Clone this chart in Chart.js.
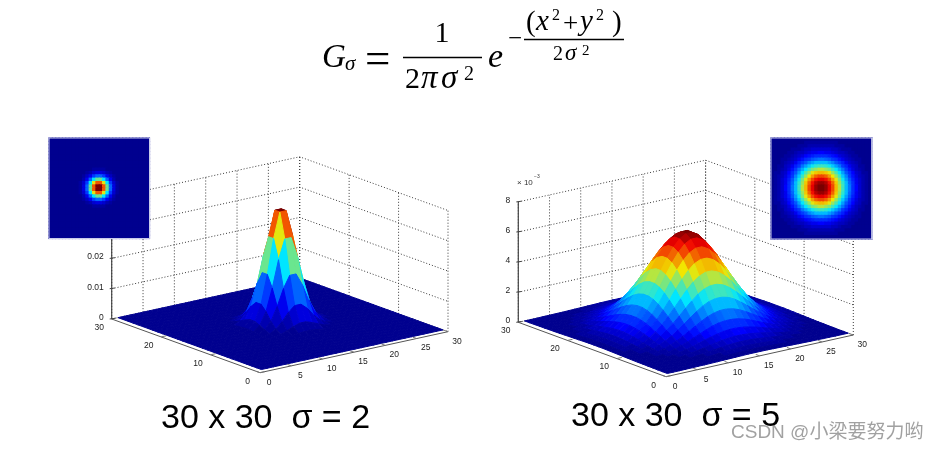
<!DOCTYPE html>
<html>
<head>
<meta charset="utf-8">
<title>Gaussian kernels</title>
<script src="https://cdn.jsdelivr.net/npm/chart.js@4"></script>
<style>
	html, body { margin: 0; background: #fff; }
	canvas { display: block; filter: blur(0.4px); }
</style>
</head>
<body>
<canvas id="kernels" width="937" height="450"></canvas>
<script>
// axis ticks, shared by both plots
const xTicks = [0, 5, 10, 15, 20, 25, 30];
const yTicks = [0, 10, 20, 30];

// sigma = 2, heights in units of 1e-4. One quadrant read from the peak outwards, the surface is round
const sigma2Quadrant = [
	[374, 291, 177, 83, 31, 9, 2, 0, 0, 0, 0, 0, 0, 0, 0],
	[291, 227, 138, 65, 24, 7, 2, 0, 0, 0, 0, 0, 0, 0, 0],
	[177, 138, 83, 39, 15, 4, 1, 0, 0, 0, 0, 0, 0, 0, 0],
	[83, 65, 39, 19, 7, 2, 0, 0, 0, 0, 0, 0, 0, 0, 0],
	[31, 24, 15, 7, 3, 1, 0, 0, 0, 0, 0, 0, 0, 0, 0],
	[9, 7, 4, 2, 1, 0, 0, 0, 0, 0, 0, 0, 0, 0, 0],
	[2, 2, 1, 0, 0, 0, 0, 0, 0, 0, 0, 0, 0, 0, 0],
	[0, 0, 0, 0, 0, 0, 0, 0, 0, 0, 0, 0, 0, 0, 0],
	[0, 0, 0, 0, 0, 0, 0, 0, 0, 0, 0, 0, 0, 0, 0],
	[0, 0, 0, 0, 0, 0, 0, 0, 0, 0, 0, 0, 0, 0, 0],
	[0, 0, 0, 0, 0, 0, 0, 0, 0, 0, 0, 0, 0, 0, 0],
	[0, 0, 0, 0, 0, 0, 0, 0, 0, 0, 0, 0, 0, 0, 0],
	[0, 0, 0, 0, 0, 0, 0, 0, 0, 0, 0, 0, 0, 0, 0],
	[0, 0, 0, 0, 0, 0, 0, 0, 0, 0, 0, 0, 0, 0, 0],
	[0, 0, 0, 0, 0, 0, 0, 0, 0, 0, 0, 0, 0, 0, 0]
];
const sigma2ZTicks = [0, 100, 200, 300, 400];
const sigma2ZLabels = ['0', '0.01', '0.02'];

// sigma = 5, heights in units of 1e-5
const sigma5Quadrant = [
	[631, 606, 559, 496, 423, 346, 272, 206, 149, 104, 70, 45, 28, 17, 9],
	[606, 582, 537, 477, 406, 333, 262, 198, 144, 100, 67, 43, 27, 16, 9],
	[559, 537, 496, 440, 375, 307, 242, 183, 133, 92, 62, 40, 25, 15, 8],
	[496, 477, 440, 390, 333, 272, 214, 162, 118, 82, 55, 35, 22, 13, 7],
	[423, 406, 375, 333, 283, 232, 183, 138, 100, 70, 47, 30, 19, 11, 6],
	[346, 333, 307, 272, 232, 190, 149, 113, 82, 57, 38, 25, 15, 9, 5],
	[272, 262, 242, 214, 183, 149, 118, 89, 65, 45, 30, 19, 12, 7, 4],
	[206, 198, 183, 162, 138, 113, 89, 67, 49, 34, 23, 15, 9, 5, 3],
	[149, 144, 133, 118, 100, 82, 65, 49, 35, 25, 17, 11, 7, 4, 2],
	[104, 100, 92, 82, 70, 57, 45, 34, 25, 17, 12, 7, 5, 3, 2],
	[70, 67, 62, 55, 47, 38, 30, 23, 17, 12, 8, 5, 3, 2, 1],
	[45, 43, 40, 35, 30, 25, 19, 15, 11, 7, 5, 3, 2, 1, 1],
	[28, 27, 25, 22, 19, 15, 12, 9, 7, 5, 3, 2, 1, 1, 0],
	[17, 16, 15, 13, 11, 9, 7, 5, 4, 3, 2, 1, 1, 0, 0],
	[9, 9, 8, 7, 6, 5, 4, 3, 2, 2, 1, 1, 0, 0, 0]
];
const sigma5ZTicks = [0, 200, 400, 600, 800];
const sigma5ZLabels = ['0', '2', '4', '6', '8'];

// where each plot sits on the page: corners of the floor, height scale, inset heat map
const plots = [
	{
		quadrant: sigma2Quadrant, zTicks: sigma2ZTicks, zLabels: sigma2ZLabels,
		front: [260, 372.7], right: [448, 331.7], left: [111.7, 319], zScale: 0.303,
		inset: [49, 138, 100.5]
	},
	{
		quadrant: sigma5Quadrant, zTicks: sigma5ZTicks, zLabels: sigma5ZLabels,
		front: [666, 376.7], right: [853.3, 335], left: [518.3, 322.3], zScale: 0.1505,
		inset: [771, 138, 101]
	}
];

const MATH = '"Liberation Serif"';
const SANS = '"Liberation Sans"';
const pageText = [
	// the formula, piece by piece
	['G', 322, 66.5, 'italic 33px ' + MATH],
	['σ', 345, 70, 'italic 21px ' + MATH],
	['=', 365, 73, '45px ' + MATH],
	['1', 434.5, 42, '30px ' + MATH],
	['2', 405, 88, '30px ' + MATH],
	['π', 421, 88, 'italic 33px ' + MATH],
	['σ', 441, 88, 'italic 33px ' + MATH],
	['2', 464, 80, '20px ' + MATH],
	['e', 488, 66.5, 'italic 34px ' + MATH],
	['−', 508, 45.5, '25px ' + MATH],
	['(', 526, 31, '29px ' + MATH],
	['x', 536, 30, 'italic 29px ' + MATH],
	['2', 552, 20, '16px ' + MATH],
	['+', 563, 32, '27px ' + MATH],
	['y', 580, 30, 'italic 29px ' + MATH],
	['2', 596, 20, '16px ' + MATH],
	[')', 612, 31, '29px ' + MATH],
	['2', 553, 60, '20px ' + MATH],
	['σ', 565, 60, 'italic 23px ' + MATH],
	['2', 582, 55, '15px ' + MATH],
	// captions
	['30 x 30  σ = 2', 161, 428, '34px ' + SANS],
	['30 x 30  σ = 5', 571, 426, '34px ' + SANS],
	['× 10', 517, 185, '8px ' + SANS, '#333'],
	['−3', 534, 178, '5px ' + SANS, '#333'],
	// site watermark
	['CSDN @小梁要努力哟', 731, 438, '19px ' + SANS + ', "Noto Sans CJK SC"', 'rgba(110,110,110,0.65)']
];

const GRID = 30;

function fullGrid(quadrant) {
	// quadrant row 0 is next to the peak, the peak lies between cells 14 and 15
	const rows = [];
	for (let j = 0; j < GRID; j++) {
		const row = [];
		const b = j < 15 ? 14 - j : j - 15;
		for (let i = 0; i < GRID; i++) {
			row.push(quadrant[b][i < 15 ? 14 - i : i - 15]);
		}
		rows.push(row);
	}
	return rows;
}

function jet(value, top) {
	const step = Math.min(63, Math.floor(value / top * 64));
	const v = (step + 1) / 64;
	const part = function(c, dull) {
		return Math.round(dull * 255 * Math.max(0, Math.min(1, 1.5 - Math.abs(4 * v - c))));
	};
	// the picture is a little duller than pure jet
	return 'rgb(' + part(3, 0.95) + ',' + part(2, 0.9) + ',' + part(1, 1) + ')';
}

function projector(plot) {
	const ux = [(plot.right[0] - plot.front[0]) / 30, (plot.right[1] - plot.front[1]) / 30];
	const uy = [(plot.left[0] - plot.front[0]) / 30, (plot.left[1] - plot.front[1]) / 30];
	return function(x, y, z) {
		return {
			x: plot.front[0] + x * ux[0] + y * uy[0],
			y: plot.front[1] + x * ux[1] + y * uy[1] - z * plot.zScale
		};
	};
}

function line(points, color, width, dash) {
	return {
		data: points, showLine: true, fill: false, tension: 0, pointRadius: 0,
		borderColor: color, borderWidth: width, borderDash: dash || []
	};
}

// everything is pushed in paint order, reversed at the end since Chart.js paints index 0 last
const layers = [];
const labels = [];
const DOTS = [1, 2];
const WALL = '#3a3a3a';

plots.forEach(function(plot) {
	const at = projector(plot);
	const zTop = plot.zTicks[plot.zTicks.length - 1];
	const heights = fullGrid(plot.quadrant);
	const top = Math.max.apply(null, heights.map(function(r) { return Math.max.apply(null, r); }));

	// dotted walls
	xTicks.forEach(function(t) {
		layers.push(line([at(t, 30, 0), at(t, 30, zTop)], WALL, 1, DOTS));
	});
	yTicks.forEach(function(t) {
		layers.push(line([at(30, t, 0), at(30, t, zTop)], WALL, 1, DOTS));
	});
	plot.zTicks.forEach(function(z) {
		layers.push(line([at(0, 30, z), at(30, 30, z), at(30, 0, z)], WALL, 1, DOTS));
	});

	// surface, grid runs 1..30 on both axes, back corner first. A facet takes its lowest corner's colour
	for (let i = GRID - 2; i >= 0; i--) {
		for (let j = GRID - 2; j >= 0; j--) {
			const color = jet(heights[j][i], top);
			const first = at(i + 1, j + 1, heights[j][i]);
			layers.push({
				data: [
					first,
					at(i + 2, j + 1, heights[j][i + 1]),
					at(i + 2, j + 2, heights[j + 1][i + 1]),
					at(i + 1, j + 2, heights[j + 1][i]),
					first
				],
				showLine: true, fill: 'shape', tension: 0, pointRadius: 0,
				backgroundColor: color, borderColor: color, borderWidth: 1
			});
		}
	}

	// axes and their ticks
	layers.push(line([at(0, 30, 0), at(0, 0, 0), at(30, 0, 0)], '#555', 1));
	layers.push(line([at(0, 30, 0), at(0, 30, zTop)], '#444', 1.2));
	xTicks.forEach(function(t) {
		layers.push(line([at(t, 0, 0), at(t, 0.8, 0)], '#777', 1));
		const p = at(t, 0, 0);
		labels.push([String(t), p.x + 9, p.y + 9.5, 'center']);
	});
	yTicks.forEach(function(t) {
		layers.push(line([at(0, t, 0), at(0.8, t, 0)], '#777', 1));
		const p = at(0, t, 0);
		labels.push([String(t), p.x - 12.5, p.y + 8.5, 'center']);
	});
	plot.zLabels.forEach(function(text, n) {
		const z = plot.zTicks[n];
		const a = at(0, 30, z);
		const b = at(0.5, 30, z);
		layers.push(line([{x: a.x - 2, y: a.y}, b], '#444', 1));
		labels.push([text, a.x - 8, a.y - 1.5, 'right']);
	});

	// inset heat map, one square per grid cell
	const cell = plot.inset[2] / GRID;
	const cells = [];
	const colors = [];
	heights.forEach(function(row, j) {
		row.forEach(function(value, i) {
			cells.push({x: plot.inset[0] + (i + 0.5) * cell, y: plot.inset[1] + (j + 0.5) * cell});
			colors.push(jet(value, top));
		});
	});
	layers.push({
		data: cells, showLine: false, pointStyle: 'rect', pointRadius: cell * 0.95, pointBorderWidth: 0,
		pointBackgroundColor: colors, pointBorderColor: colors
	});
	const ix = plot.inset[0], iy = plot.inset[1], is = plot.inset[2];
	layers.push(line([
		{x: ix, y: iy}, {x: ix + is, y: iy}, {x: ix + is, y: iy + is}, {x: ix, y: iy + is}, {x: ix, y: iy}
	], '#c8cbea', 1));
});

const pageLabels = {
	id: 'pageLabels',
	afterDraw: function(chart) {
		const c = chart.ctx;
		const sx = chart.scales.x, sy = chart.scales.y;
		c.save();
		c.textBaseline = 'middle';
		c.fillStyle = '#222';
		c.font = '8.5px ' + SANS;
		labels.forEach(function(l) {
			c.textAlign = l[3];
			c.fillText(l[0], sx.getPixelForValue(l[1]), sy.getPixelForValue(l[2]));
		});
		c.textBaseline = 'alphabetic';
		c.textAlign = 'left';
		pageText.forEach(function(t) {
			c.font = t[3];
			c.fillStyle = t[4] || '#000';
			c.fillText(t[0], sx.getPixelForValue(t[1]), sy.getPixelForValue(t[2]));
		});
		// fraction bars of the formula
		c.strokeStyle = '#000';
		c.lineWidth = 1.6;
		c.beginPath();
		c.moveTo(sx.getPixelForValue(403), sy.getPixelForValue(57.5));
		c.lineTo(sx.getPixelForValue(482), sy.getPixelForValue(57.5));
		c.moveTo(sx.getPixelForValue(524), sy.getPixelForValue(39.5));
		c.lineTo(sx.getPixelForValue(624), sy.getPixelForValue(39.5));
		c.stroke();
		c.restore();
	}
};

new Chart(document.getElementById('kernels'), {
	type: 'scatter',
	data: { datasets: layers.reverse() },
	options: {
		responsive: false,
		animation: false,
		events: [],
		layout: { padding: 0, autoPadding: false },
		scales: {
			x: { type: 'linear', display: false, min: 0, max: 937 },
			y: { type: 'linear', display: false, min: 0, max: 450, reverse: true }
		},
		plugins: { legend: { display: false }, tooltip: { enabled: false } }
	},
	plugins: [pageLabels]
});
</script>
</body>
</html>
